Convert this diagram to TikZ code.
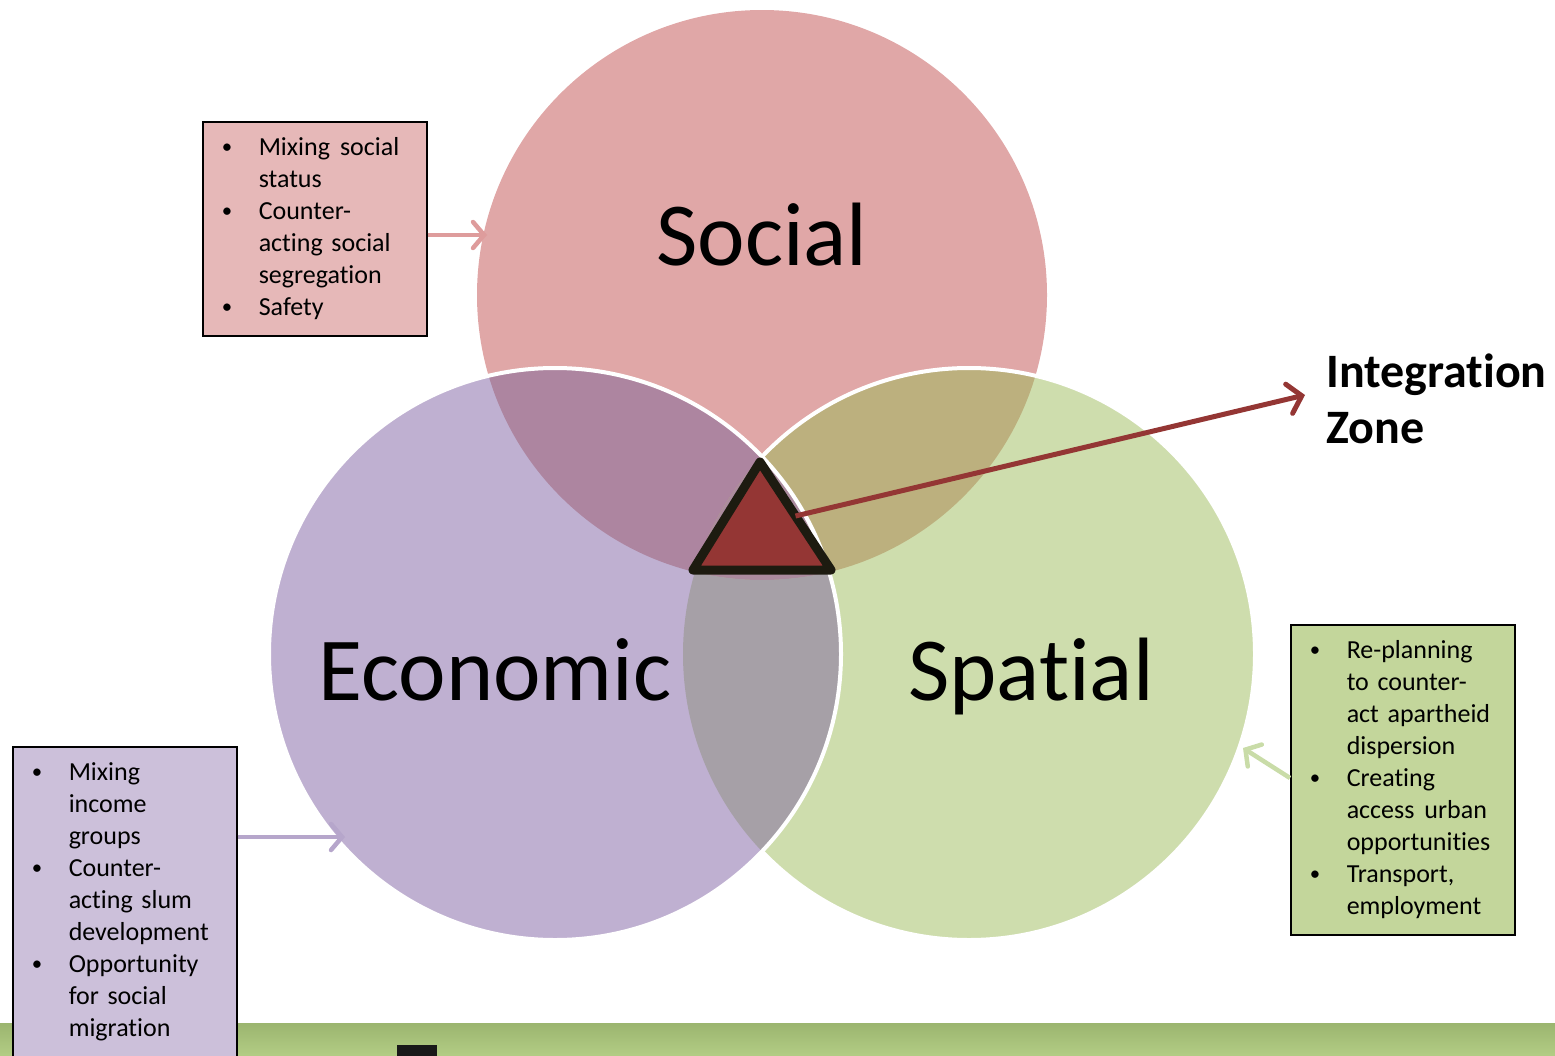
\documentclass[tikz,border=0pt]{standalone}
\usepackage{fontspec}
\setmainfont{Carlito}[Ligatures=NoCommon]
\usepackage{xcolor}
\usetikzlibrary{arrows.meta,calc,positioning}
\definecolor{socialfill}{HTML}{E0A7A7}
\definecolor{econfill}{HTML}{BFB0D1}
\definecolor{spatfill}{HTML}{CEDDAD}
\definecolor{soceco}{HTML}{AD85A0}
\definecolor{socspa}{HTML}{BCB07E}
\definecolor{ecospa}{HTML}{A6A0A7}
\definecolor{allthree}{HTML}{AB8B9E}
\definecolor{zonered}{HTML}{943634}
\definecolor{zoneedge}{HTML}{1D1B10}
\definecolor{socialbox}{HTML}{E6B8B8}
\definecolor{econbox}{HTML}{CCC0DA}
\definecolor{spatbox}{HTML}{C3D69B}
\definecolor{socialarrow}{HTML}{DE9C9C}
\definecolor{econarrow}{HTML}{B6A6CB}
\definecolor{spatarrow}{HTML}{C9DCA8}
\definecolor{bandtop}{HTML}{9BB56F}
\definecolor{bandbottom}{HTML}{B3CD85}
\tikzset{
  infobox/.style={draw=black, line width=1.5pt, anchor=north west, text width=184pt,
      inner xsep=20pt, inner ysep=11pt, align=left, font=\fontsize{26}{32}\selectfont},
  pointer/.style={line width=4.5pt, -{Straight Barb[length=11pt,width=26pt,line cap=round]}}
}
\newcommand{\bl}{\hspace{-1pt}\raisebox{1.5pt}{\scalebox{0.8}{\textbullet}}}
\newcommand{\bulletrows}[1]{\noindent\begin{tabular}{@{}p{36pt}@{}l@{}}#1\end{tabular}}

\begin{document}
\begin{tikzpicture}[x=1pt, y=-1pt, big/.style={font=\fontsize{90}{100}\selectfont, anchor=base}]
    \useasboundingbox (0,0) rectangle (1555,1055);
    \coordinate (socc) at (762,295);
    \coordinate (ecoc) at (555,654);
    \coordinate (spac) at (969,654);

    % base circles
    \fill[socialfill] (socc) circle (285);
    \fill[spatfill] (spac) circle (286);
    \fill[econfill] (ecoc) circle (286);

    % overlaps
    \begin{scope}
      \clip (socc) circle (285);
      \fill[soceco] (ecoc) circle (286);
      \fill[socspa] (spac) circle (286);
      \clip (ecoc) circle (286);
      \fill[allthree] (spac) circle (286);
    \end{scope}
    \begin{scope}[even odd rule]
      \clip (0,0) rectangle (1555,1055) (socc) circle (285);
      \clip (ecoc) circle (286);
      \fill[ecospa] (spac) circle (286);
    \end{scope}

    % white rims
    \begin{scope}[even odd rule]
      \clip (0,0) rectangle (1555,1055) (ecoc) circle (286);
      \draw[white, line width=4pt] (spac) circle (286);
    \end{scope}
    \draw[white, line width=4pt] (ecoc) circle (286);

    % circle labels
    \node[big] (social) at (762,265) {Social};
    \node[big] (economic) at (495,700) {Economic};
    \node[big] (spatial) at (1031,700) {Spatial};

    % bottom band
    \shade[top color=bandtop, bottom color=bandbottom] (0,1023) rectangle (1555,1056);
    \fill[black!90] (397,1045) rectangle (437,1056);

    % boxes
    \node[infobox, fill=socialbox] (sbox) at (202,121) {\bulletrows{
        \bl & Mixing\hspace{10pt}social\\
        & status\\
        \bl & Counter-\\
        & acting social\\
        & segregation\\
        \bl & Safety}};
    \node[infobox, fill=econbox] (ebox) at (12,746) {\bulletrows{
        \bl & Mixing\\
        & income\\
        & groups\\
        \bl & Counter-\\
        & acting slum\\
        & development\\
        \bl & Opportunity\\
        & for social\\
        & migration}};
    \node[infobox, fill=spatbox] (pbox) at (1290,624) {\bulletrows{
        \bl & Re-planning\\
        & to counter-\\
        & act apartheid\\
        & dispersion\\
        \bl & Creating\\
        & access\hspace{10pt}urban\\
        & opportunities\\
        \bl & Transport,\\
        & employment}};

    % box arrows
    \coordinate (sin) at (487,235);
    \coordinate (ein) at (345,837);
    \coordinate (pin) at (1243,748);
    \draw[pointer, socialarrow] (sbox.east |- sin) -- (sin);
    \draw[pointer, econarrow] (ebox.east |- ein) -- (ein);
    \draw[pointer, spatarrow] (1290,778) -- (pin);

    % integration zone
    \coordinate (apex) at (760,462);
    \coordinate (left) at (693,570);
    \coordinate (right) at (831,570);
    \draw[fill=zonered, draw=zoneedge, line width=9pt, line join=round] (apex) -- (left) -- (right) -- cycle;
    \node[anchor=north west, align=left, inner sep=0pt, font=\bfseries\fontsize{48}{56}\selectfont] (zone) at (1326,354) {Integration\\Zone};
    \coordinate (ztip) at (1305,395);
    \draw[zonered, line width=5pt, -{Straight Barb[length=13pt,width=30pt,line cap=round]}] ($(apex)!0.5!(right)$) -- (ztip);
\end{tikzpicture}
\end{document}
